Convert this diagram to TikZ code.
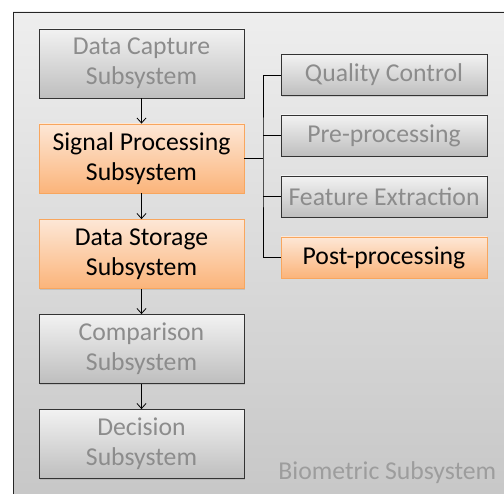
\documentclass[tikz,border=0pt]{standalone}
\usepackage{fontspec}
\setmainfont{Carlito}
\usetikzlibrary{arrows.meta,shadows}
\definecolor{boxgray}{HTML}{8C8C8C}
\definecolor{orangeline}{HTML}{F8A65E}
\definecolor{orangetop}{HTML}{FDE7D6}
\definecolor{orangebot}{HTML}{FBB47A}
\definecolor{graytop}{HTML}{F2F2F2}
\definecolor{graybot}{HTML}{BEBEBE}
\definecolor{backtop}{HTML}{EEEEEE}
\definecolor{backbot}{HTML}{C6C6C6}
\begin{document}
\begin{tikzpicture}[x = 1pt, y = 1pt, line width = 0.8pt,
                        greybox/.style = {draw = black!80, top color = graytop, bottom color = graybot, text = boxgray,
                                          align = center, inner sep = 0pt, font = \fontsize{25.7}{30}\selectfont,
                                          drop shadow = {opacity = 0.25, shadow xshift = 1.2pt, shadow yshift = -1.2pt}},
                        orangebox/.style = {greybox, draw = orangeline, top color = orangetop, bottom color = orangebot, text = black},
                        bigbox/.style = {minimum width = 205pt, minimum height = 69pt},
                        smallbox/.style = {minimum width = 206pt, minimum height = 41pt},
                        flow/.style = {-{Straight Barb[length = 5pt, width = 9pt]}, line width = 0.8pt}]
      \useasboundingbox (0, 0) rectangle (504, 494);
      \begin{scope}
        \clip (0, 0) rectangle (504, 494);
        \draw [top color = backtop, bottom color = backbot, draw = black!85] (13, 482) rectangle (530, -20);
      \end{scope}
      \node [greybox, bigbox] (b1) at (141.5, 430.5) {Data Capture\\Subsystem};
      \node [orangebox, bigbox] (b2) at (141.5, 335.5) {Signal Processing\\Subsystem};
      \node [orangebox, bigbox] (b3) at (141.5, 240) {Data Storage\\Subsystem};
      \node [greybox, bigbox] (b4) at (141.5, 145) {Comparison\\Subsystem};
      \node [greybox, bigbox] (b5) at (141.5, 50) {Decision\\Subsystem};
      \node [greybox, smallbox] (s1) at (384, 419) {Quality Control};
      \node [greybox, smallbox] (s2) at (384, 358.5) {Pre-processing};
      \node [greybox, smallbox] (s3) at (384, 297.5) {Feature Extraction};
      \node [orangebox, smallbox] (s4) at (384, 236.5) {Post-processing};
      \node [anchor = base east, text = boxgray!85, font = \fontsize{25.7}{30}\selectfont] (lbl) at (500, 14) {Biometric Subsystem};
      \coordinate (j) at (263, 335.5);
      \draw [flow] (b1) -- (b2);
      \draw [flow] (b2) -- (b3);
      \draw [flow] (b3) -- (b4);
      \draw [flow] (b4) -- (b5);
      \draw (b2.east) -- (j);
      \draw (s1.west) -| (j) |- (s4.west);
      \draw (s2.west) -- (s2.west -| j);
      \draw (s3.west) -- (s3.west -| j);
    \end{tikzpicture}
\end{document}
